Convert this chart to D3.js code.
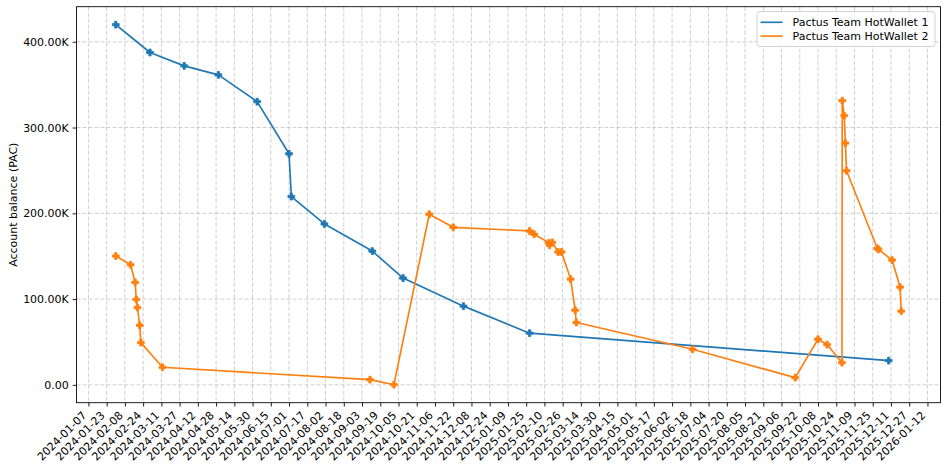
<!DOCTYPE html>
<html>
<head>
<meta charset="utf-8">
<script src="https://cdn.jsdelivr.net/npm/d3@7/dist/d3.min.js"></script>
<style>
  html, body { margin: 0; padding: 0; background: #fff; }
  svg { display: block; font-family: "DejaVu Sans", sans-serif; }
</style>
</head>
<body>
<div id="chart"></div>
<script>
// ---------- data ----------
const seriesNames = ["Pactus Team HotWallet 1", "Pactus Team HotWallet 2"];
const seriesColors = ["#1f77b4", "#ff7f0e"];

const wallet1Dates = [
  "2024-01-31", "2024-03-01", "2024-03-31", "2024-04-30", "2024-06-03",
  "2024-07-01", "2024-07-03", "2024-08-01", "2024-09-12", "2024-10-09",
  "2024-12-01", "2025-01-28", "2025-12-09"
];
const wallet1Values = [
  419900, 387500, 371900, 361400, 330200,
  269400, 219500, 187600, 156000, 124500,
  91800, 60300, 28300
];

const wallet2Dates = [
  "2024-01-31", "2024-02-13", "2024-02-17", "2024-02-18", "2024-02-19",
  "2024-02-21", "2024-02-22", "2024-03-12", "2024-09-10", "2024-10-01",
  "2024-11-01", "2024-11-22", "2025-01-28", "2025-02-01", "2025-02-14",
  "2025-02-14T12:00", "2025-02-17", "2025-02-22", "2025-02-25", "2025-03-05",
  "2025-03-09", "2025-03-10", "2025-06-20", "2025-09-18", "2025-10-08",
  "2025-10-16", "2025-10-29", "2025-10-29T06:00", "2025-10-31", "2025-11-01",
  "2025-11-02", "2025-11-29", "2025-11-30", "2025-12-12", "2025-12-19",
  "2025-12-20"
];
const wallet2Values = [
  150200, 140000, 119500, 99600, 90200,
  69500, 49300, 20500, 6100, 200,
  198900, 183700, 179400, 175600, 165700,
  162700, 166200, 154900, 154900, 123300,
  87100, 72700, 41500, 8400, 53200,
  47000, 25900, 331400, 313900, 281900,
  249600, 159200, 158000, 145500, 114000,
  85900
];

const xTickLabels = [
  "2024-01-07","2024-01-23","2024-02-08","2024-02-24","2024-03-11","2024-03-27",
  "2024-04-12","2024-04-28","2024-05-14","2024-05-30","2024-06-15","2024-07-01",
  "2024-07-17","2024-08-02","2024-08-18","2024-09-03","2024-09-19","2024-10-05",
  "2024-10-21","2024-11-06","2024-11-22","2024-12-08","2024-12-24","2025-01-09",
  "2025-01-25","2025-02-10","2025-02-26","2025-03-14","2025-03-30","2025-04-15",
  "2025-05-01","2025-05-17","2025-06-02","2025-06-18","2025-07-04","2025-07-20",
  "2025-08-05","2025-08-21","2025-09-06","2025-09-22","2025-10-08","2025-10-24",
  "2025-11-09","2025-11-25","2025-12-11","2025-12-27","2026-01-12"
];
const yTickValues = [0, 100000, 200000, 300000, 400000];
const yTickLabels = ["0.00", "100.00K", "200.00K", "300.00K", "400.00K"];
const yAxisTitle = "Account balance (PAC)";

// ---------- layout ----------
const W = 948, H = 471;
const margin = { left: 76.5, right: 7.5, top: 6.7, bottom: 68.3 };
const fontPx = 11;

const parse = s => new Date(s.length > 10 ? s + ":00Z" : s + "T00:00:00Z");

const series = [
  { name: seriesNames[0], color: seriesColors[0],
    pts: wallet1Dates.map((d, i) => ({ date: parse(d), value: wallet1Values[i] })) },
  { name: seriesNames[1], color: seriesColors[1],
    pts: wallet2Dates.map((d, i) => ({ date: parse(d), value: wallet2Values[i] })) }
];

const allPts = series.flatMap(s => s.pts);
const xExt = d3.extent(allPts, p => +p.date);
const yExt = d3.extent(allPts, p => p.value);
const xPad = (xExt[1] - xExt[0]) * 0.05;
const yPad = (yExt[1] - yExt[0]) * 0.05;

const x = d3.scaleUtc()
  .domain([new Date(xExt[0] - xPad), new Date(xExt[1] + xPad)])
  .range([margin.left, W - margin.right]);
const y = d3.scaleLinear()
  .domain([yExt[0] - yPad, yExt[1] + yPad])
  .range([H - margin.bottom, margin.top]);

const svg = d3.select("#chart").append("svg")
  .attr("width", W).attr("height", H)
  .attr("viewBox", `0 0 ${W} ${H}`);

svg.append("rect").attr("width", W).attr("height", H).attr("fill", "#fff");

const xTicks = xTickLabels.map(parse);

// ---------- grid ----------
const grid = svg.append("g")
  .attr("stroke", "#b0b0b0").attr("stroke-opacity", 0.7)
  .attr("stroke-width", 0.88).attr("stroke-dasharray", "4,2");
grid.selectAll("line.gx").data(xTicks).join("line")
  .attr("class", "gx")
  .attr("x1", d => x(d)).attr("x2", d => x(d))
  .attr("y1", margin.top).attr("y2", H - margin.bottom);
grid.selectAll("line.gy").data(yTickValues).join("line")
  .attr("class", "gy")
  .attr("x1", margin.left).attr("x2", W - margin.right)
  .attr("y1", d => y(d)).attr("y2", d => y(d));

// ---------- lines & markers ----------
const line = d3.line().x(p => x(p.date)).y(p => y(p.value));
const marker = d3.symbol().type(d3.symbolCross).size(26);

series.forEach(s => {
  svg.append("path")
    .datum(s.pts)
    .attr("d", line)
    .attr("fill", "none")
    .attr("stroke", s.color)
    .attr("stroke-width", 1.65)
    .attr("stroke-linejoin", "round")
    .attr("stroke-linecap", "square");
  svg.append("g").selectAll("path").data(s.pts).join("path")
    .attr("d", marker)
    .attr("transform", p => `translate(${x(p.date)},${y(p.value)})`)
    .attr("fill", s.color)
    .attr("stroke", s.color)
    .attr("stroke-width", 0.8);
});

// ---------- axes ----------
const xAxis = d3.axisBottom(x)
  .tickValues(xTicks)
  .tickSize(3.84).tickPadding(3.84)
  .tickFormat((d, i) => xTickLabels[i]);
const gx = svg.append("g")
  .attr("transform", `translate(0,${H - margin.bottom})`)
  .call(xAxis);
gx.select(".domain").remove();
gx.selectAll(".tick line").attr("stroke", "#000").attr("stroke-width", 0.88);
gx.selectAll(".tick text")
  .attr("fill", "#000")
  .attr("font-size", fontPx)
  .attr("font-family", "DejaVu Sans")
  .attr("text-anchor", "end")
  .attr("dy", null)
  .attr("y", null)
  .attr("transform", "translate(-1.8,13.4) rotate(-45)");

const yAxis = d3.axisLeft(y)
  .tickValues(yTickValues)
  .tickSize(3.84).tickPadding(3.84)
  .tickFormat((d, i) => yTickLabels[i]);
const gy = svg.append("g")
  .attr("transform", `translate(${margin.left},0)`)
  .call(yAxis);
gy.select(".domain").remove();
gy.selectAll(".tick line").attr("stroke", "#000").attr("stroke-width", 0.88);
gy.selectAll(".tick text")
  .attr("fill", "#000")
  .attr("font-size", fontPx)
  .attr("font-family", "DejaVu Sans");

// spines
svg.append("rect")
  .attr("x", margin.left).attr("y", margin.top)
  .attr("width", W - margin.left - margin.right)
  .attr("height", H - margin.top - margin.bottom)
  .attr("fill", "none").attr("stroke", "#000").attr("stroke-width", 0.88);

// y title
svg.append("text")
  .attr("transform", `translate(13,${(margin.top + H - margin.bottom) / 2}) rotate(-90)`)
  .attr("text-anchor", "middle")
  .attr("dominant-baseline", "central")
  .attr("font-size", fontPx)
  .text(yAxisTitle);

// ---------- legend ----------
const lg = svg.append("g");
lg.append("rect")
  .attr("x", 757).attr("y", 11.5).attr("width", 178).attr("height", 35)
  .attr("rx", 3).attr("fill", "#fff").attr("fill-opacity", 0.8)
  .attr("stroke", "#cccccc").attr("stroke-width", 0.88);
series.forEach((s, i) => {
  const cy = 22.3 + i * 13.8;
  lg.append("line")
    .attr("x1", 760.5).attr("x2", 782.5)
    .attr("y1", cy).attr("y2", cy)
    .attr("stroke", s.color).attr("stroke-width", 1.65);
  lg.append("text")
    .attr("x", 792.5).attr("y", cy)
    .attr("dominant-baseline", "central")
    .attr("font-size", fontPx)
    .text(s.name);
});
</script>
</body>
</html>
